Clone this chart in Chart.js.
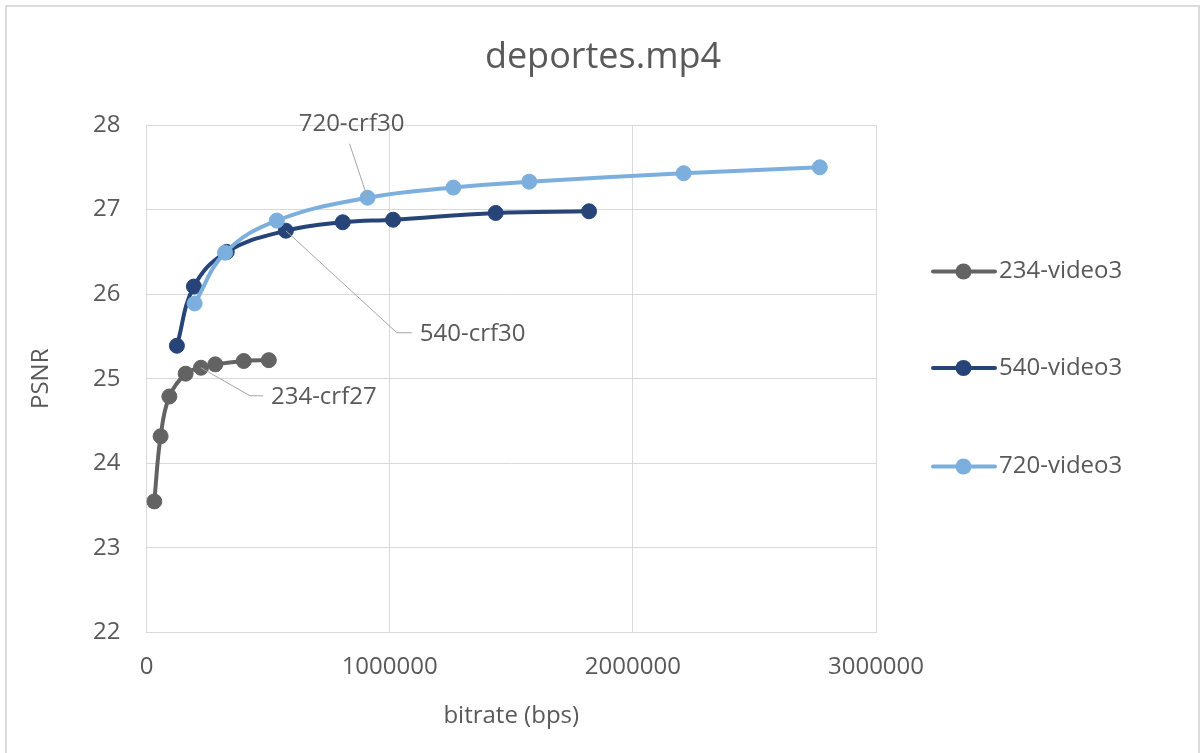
<!DOCTYPE html>
<html>
<head>
<meta charset="utf-8">
<title>deportes.mp4</title>
<script src="https://cdn.jsdelivr.net/npm/chart.js@4/dist/chart.umd.min.js"></script>
<style>
  html, body { margin: 0; padding: 0; background: #ffffff; }
  #wrap { width: 1201px; height: 753px; position: relative; }
  canvas { display: block; }
</style>
</head>
<body>
<div id="wrap"><canvas id="chart" width="1201" height="753"></canvas></div>
<script>
// ---- data ----
const chartTitle = 'deportes.mp4';
const xTitle = 'bitrate (bps)';
const yTitle = 'PSNR';
const seriesNames = ['234-video3', '540-video3', '720-video3'];

const bitrate234 = [32000, 58000, 94000, 161000, 224000, 283000, 400000, 503000];
const psnr234    = [23.55, 24.32, 24.79, 25.06, 25.13, 25.17, 25.21, 25.22];

const bitrate540 = [125000, 195000, 330000, 573000, 807000, 1014000, 1436000, 1820000];
const psnr540    = [25.39, 26.09, 26.50, 26.75, 26.85, 26.88, 26.96, 26.98];

const bitrate720 = [198000, 323000, 536000, 909000, 1262000, 1574000, 2209000, 2769000];
const psnr720    = [25.89, 26.49, 26.87, 27.14, 27.26, 27.33, 27.43, 27.50];

const xTickValues = [0, 1000000, 2000000, 3000000];
const yTickValues = [22, 23, 24, 25, 26, 27, 28];

// named points: [series index, point index, label]
const pointLabels = [
  [0, 4, '234-crf27'],
  [1, 3, '540-crf30'],
  [2, 3, '720-crf30']
];

// ---- styling ----
const FONT = "'Open Sans', 'Noto Sans', sans-serif";
const TEXT = '#595959';
const GRID = '#d9d9d9';
const colors = ['#636363', '#264478', '#7cafdd'];

function toPoints(xs, ys) { return xs.map((x, i) => ({ x: x, y: ys[i] })); }

const seriesData = [
  toPoints(bitrate234, psnr234),
  toPoints(bitrate540, psnr540),
  toPoints(bitrate720, psnr720)
];

// leader-line geometry for each named point (offsets from the marker, px)
const labelGeometry = [
  { dx: 49, dy: 28, hook: 13, gap: 8, align: 'left' },
  { dx: 111, dy: 102, hook: 15, gap: 8, align: 'left' },
  { dx: -18, dy: -54, hook: 0, tx: -16, ty: -74, align: 'center' }
];

const legendLayout = { x1: 933, x2: 995, xm: 963.5, tx: 999, rows: [271.5, 368, 466.5] };

const decor = {
  id: 'decor',
  beforeDraw(chart) {
    const ctx = chart.ctx;
    ctx.save();
    ctx.fillStyle = '#ffffff';
    ctx.fillRect(0, 0, chart.width, chart.height);
    ctx.strokeStyle = '#dcdcdc';
    ctx.lineWidth = 2;
    ctx.strokeRect(6, 6, 1193, 800);
    ctx.restore();
  },
  afterDraw(chart) {
    const ctx = chart.ctx;
    ctx.save();
    // title
    ctx.fillStyle = TEXT;
    ctx.font = '36px ' + FONT;
    ctx.textAlign = 'center';
    ctx.textBaseline = 'middle';
    ctx.fillText(chartTitle, 603, 58);

    // point labels with leader lines
    ctx.font = '24px ' + FONT;
    pointLabels.forEach((pl, k) => {
      const el = chart.getDatasetMeta(pl[0]).data[pl[1]];
      const g = labelGeometry[k];
      const ex = el.x + g.dx, ey = el.y + g.dy;
      ctx.strokeStyle = '#a6a6a6';
      ctx.lineWidth = 1;
      ctx.beginPath();
      ctx.moveTo(el.x, el.y);
      ctx.lineTo(ex, ey);
      if (g.hook) ctx.lineTo(ex + g.hook, ey);
      ctx.stroke();
      ctx.fillStyle = TEXT;
      ctx.textBaseline = 'middle';
      if (g.align === 'left') {
        ctx.textAlign = 'left';
        ctx.fillText(pl[2], ex + g.hook + g.gap, ey + 1);
      } else {
        ctx.textAlign = 'center';
        ctx.fillText(pl[2], el.x + g.tx, el.y + g.ty);
      }
    });

    // legend
    seriesNames.forEach((name, i) => {
      const y = legendLayout.rows[i];
      ctx.strokeStyle = colors[i];
      ctx.lineWidth = 4;
      ctx.lineCap = 'round';
      ctx.beginPath();
      ctx.moveTo(legendLayout.x1, y);
      ctx.lineTo(legendLayout.x2, y);
      ctx.stroke();
      ctx.fillStyle = colors[i];
      ctx.beginPath();
      ctx.arc(legendLayout.xm, y, 8, 0, Math.PI * 2);
      ctx.fill();
      ctx.fillStyle = TEXT;
      ctx.textAlign = 'left';
      ctx.textBaseline = 'middle';
      ctx.fillText(name, legendLayout.tx, y);
    });
    ctx.restore();
  }
};

function build() {
  Chart.defaults.font.family = FONT;
  Chart.defaults.color = TEXT;
  new Chart(document.getElementById('chart'), {
    type: 'line',
    data: {
      datasets: seriesNames.map((name, i) => ({
        label: name,
        data: seriesData[i],
        borderColor: colors[i],
        backgroundColor: colors[i],
        pointBackgroundColor: colors[i],
        pointBorderColor: colors[i],
        borderWidth: 4,
        pointRadius: 7.5,
        pointBorderWidth: 1,
        tension: 0.4,
        fill: false,
        order: 2 - i
      }))
    },
    options: {
      responsive: false,
      animation: false,
      devicePixelRatio: 1,
      layout: { padding: { top: 125, right: 325, bottom: 0, left: 0 } },
      plugins: {
        legend: { display: false },
        title: { display: false },
        tooltip: { enabled: false }
      },
      scales: {
        x: {
          type: 'linear',
          min: xTickValues[0],
          max: xTickValues[xTickValues.length - 1],
          afterBuildTicks: (s) => { s.ticks = xTickValues.map(v => ({ value: v })); },
          afterFit: (s) => { s.height = 120.5; },
          grid: { color: GRID, lineWidth: 1, drawTicks: false },
          border: { color: GRID, width: 1 },
          ticks: { padding: 20, color: TEXT, font: { size: 24 }, maxRotation: 0,
                   callback: (v) => String(v) },
          title: { display: true, text: xTitle, color: TEXT, font: { size: 24 },
                   padding: { top: 10, bottom: 22 } }
        },
        y: {
          type: 'linear',
          min: yTickValues[0],
          max: yTickValues[yTickValues.length - 1],
          afterBuildTicks: (s) => { s.ticks = yTickValues.map(v => ({ value: v })); },
          afterFit: (s) => { s.width = 146.5; },
          grid: { color: GRID, lineWidth: 1, drawTicks: false },
          border: { color: GRID, width: 1 },
          ticks: { padding: 26, color: TEXT, font: { size: 24 },
                   callback: (v) => String(v) },
          title: { display: true, text: yTitle, color: TEXT, font: { size: 24 },
                   padding: { top: 27, bottom: 0 } }
        }
      }
    },
    plugins: [decor]
  });
}

if (document.fonts && document.fonts.load) {
  Promise.all([
    document.fonts.load("24px 'Open Sans'"),
    document.fonts.load("36px 'Open Sans'")
  ]).then(build, build);
} else {
  build();
}
</script>
</body>
</html>
